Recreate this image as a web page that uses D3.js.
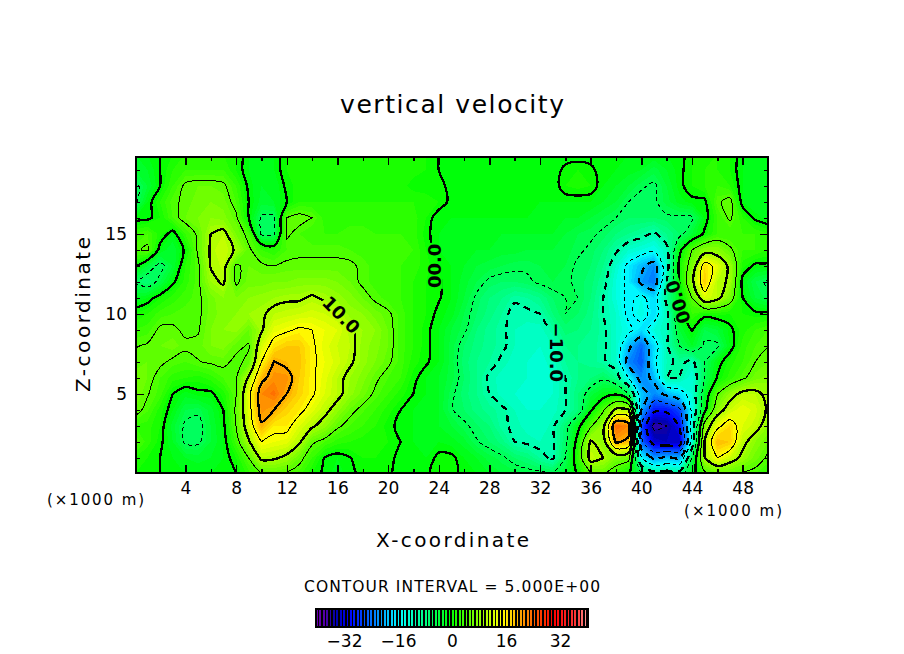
<!DOCTYPE html>
<html>
<head>
<meta charset="utf-8">
<title>vertical velocity</title>
<script src="https://cdn.jsdelivr.net/npm/d3@7"></script>
<style>
  html, body { margin: 0; background: #fff; }
  text { font-family: "DejaVu Sans", sans-serif; fill: #000; }
</style>
</head>
<body>
<svg id="chart" width="904" height="654"></svg>
<script>
// Values, one row per km of height, x = 0..50 km
var w20 = [-2,-1,0,1,2,2,2,2,1,-1,  -2,-1,1,1.5,1.5,1.5,1.5,1.5,1.5,1.5,  1.5,1.5,1.5,1,0,-1,-1,-1,-1,-1,  -1,-1,-1,-1,-1,-1,-1,-1,-1,-1,  -1,-1,-1,-1,1,1,2,1,-1,-2,-2];
var w19 = [-3,-2,0,2,3,3,3,3,1,-1,  -2,-1,1,1.5,1.5,1.5,1.5,1.5,1.5,1.5,  1.5,1.5,1.5,1,0,-1,-1,-1,-1,-1,  -1,-1,-1,-1,0.5,1,0.5,-1,-1,-1.5,  -2,-3.5,-2,-0.5,1,2,2,1,-1,-2,-2];
var w18 = [-6,-3,0,3,5.5,6,6,5.5,3,-0.5,  -2,-2,0.5,1.5,1.5,1.5,1.5,1.5,1.5,1.5,  1.5,1.5,0.5,0.5,0.5,-0.5,-1,-1,-1,-1,  -1,-1,-1,-1,1,1.5,1,-1,-2,-3,  -4.6,-5.5,-3,-0.5,1,2,3,2,-1,-2,-2];
var w17 = [-6,-1,2,4.5,5.5,6.5,7,6.5,4,0,  -2.5,-2,0,2,2,2,2,2,2,2,  2,2,2,1.5,1,-0.5,-1,-1,-1,-1,  -1,-1,-1,-1,-1,-1,-1,-2,-3,-5,  -6,-5.5,-3.5,-1.5,-0.5,-0.5,4.5,6,-1,-2,-2];
var w16 = [-1,-0.5,1,4,6,7,8,7.5,5.5,0,  -5.5,-5.5,5,6,5,2.5,2.5,2.5,2.5,2.5,  2.5,2.5,2.5,1,-1,-1,-1,-1,-1,-1,  -1,-1,-2,-2,-2,-2,-3,-4,-5,-6,  -6,-6,-5.5,-5.5,-5.5,-1,3,5.5,2,-0.5,-1.5];
var w15 = [3,4,1.5,-1,3,5.5,10,11,7,4,  -5.5,-5.5,5.5,4,3,3,3,3.5,3.5,3,  3,3,2.5,0.5,-1,-1.5,-2,-2,-2,-2,  -2,-2,-2,-2,-3,-4,-4.5,-5.5,-7,-8,  -9,-10.5,-8,-6,-3,0.5,3,3,3,3,2];
var w14 = [4.5,5.5,-1,-3,0.5,5.5,10.5,12,9.5,5.5,  3,2,4,4.5,4.5,4.5,4.5,4,3.5,3,  3,3,3,1,-1,-1.5,-2,-2,-2,-2.5,  -2.5,-3,-3,-3,-3.5,-4.5,-5.5,-7,-9.5,-12,  -13,-14,-11,-1,5,8,8,5.5,3,3,2];
var w13 = [0.5,-3,-6,-3,2,4.5,10.2,11.3,4.5,6,  5.5,5,5.5,5.5,5.5,5.5,5.5,5.5,4.5,3.5,  3,3,2.5,1.5,0,-1,-2,-3,-3.5,-4,  -4.5,-4.5,-4,-4,-4,-5.5,-6,-8,-12,-16,  -19,-22,-12,1,7,17,13.5,9,1.5,-0.5,-0.5];
var w12 = [-5.5,-7,-4,-0.5,2.5,4.5,9,10.5,4.5,6.5,  6.5,7,7,7.5,7.5,7.5,7,6,4.5,3.5,  3,3,2,1,0.3,-1,-2.5,-4,-5.5,-6,  -6,-5.5,-4.5,-4,-4.5,-5.5,-6.5,-9,-13,-16,  -21,-23,-10,0,9,18,11,9.5,-1,-4,-5.5];
var w11 = [-2,-1,1,2.5,3.5,4.5,6.5,8,7,8,  8.5,9,9.5,9.5,10.5,9.5,8.5,7.5,6,4.5,  3.5,3,2,1,0.2,-1,-3,-5.5,-7,-8,  -9.5,-9,-8,-6,-5,-5,-7,-10,-13,-16,  -14,-17,-9,-1,5,13,11,7,0,-3,-4.5];
var w10 = [1,2,3.5,4,4.5,4.5,6.5,7.5,8,9,  9.5,11,11.5,12,12.5,12,11,8.5,8,6.5,  5.5,3.5,2,1,-0.5,-1.5,-4,-6,-7.5,-9,  -11,-10.5,-10,-7,-5,-6,-7.5,-10,-12,-16,  -13,-17,-11,-1,3,1,1.5,1,1,0.5,0.5];
var w9  = [3,3.5,5.5,5.5,4.5,4.8,7,8,8.5,6,  9.5,13.5,14.5,15.5,15,14,13,10.5,9,8,  6,3.5,2,0.5,-1,-3,-4.5,-7,-8.5,-9.5,  -11,-11.5,-11.5,-9.5,-6.5,-7,-8,-9.5,-12,-14,  -17,-13,-11,-3,0.2,-4,-3,-0.5,1.5,3,4];
var w8  = [4.8,5.3,6,6.5,5.5,5.5,7,7.5,5.5,4.8,  12.5,16.5,18,18,15.5,13.5,12,11,8.5,7.5,  6,3.5,2,0.5,-1,-3.5,-6,-7.5,-8.5,-9.5,  -11,-12,-12,-11,-8,-8,-8.5,-9.5,-12,-19,  -24,-17,-10.5,-5,-2,-5.5,-5.5,-1,2.5,4,4.8];
var w7  = [5.5,6,5.5,4.5,4,4.9,5.3,5.5,4.5,5.5,  15,20.1,19,18.5,15.5,14,12.5,10.5,8.5,7,  5.5,3.5,1.5,0.3,-1,-3.5,-6.5,-8,-9,-10.5,  -11.5,-12,-12.5,-11.5,-9,-8,-8.5,-9.5,-12,-22,  -25,-16,-11,-9,-11,-5,-1,1.5,3,5,6];
var w6  = [6.5,6,4,2.5,2,1.5,2.5,4,4.8,10.5,  19,21.5,21.5,18,15.5,13.5,11,9,7.5,5.5,  4,3,0.5,-1,-2,-3.5,-6,-8,-10.5,-11.5,  -11.5,-12,-12.5,-12,-10,-8,-7,-5.5,-8,-15,  -22,-19,-10,-10,-13,-5,0.2,2.5,4.5,6.5,7.5];
var w5  = [7,5.2,3.5,0,-1.5,-0.5,-0.5,1.5,4.9,14,  22,23.5,20,17.5,15.5,13,11,8.5,6.5,4.5,  3,1.5,0,-1,-2,-4.5,-6.5,-8,-10,-11.5,  -12,-12.5,-12.5,-12,-10,-7,-3.5,-1.5,-0.5,-5,  -18,-22,-19,-17,-13,-2.5,5,8.5,11,11,9];
var w4  = [6,4.2,1.5,-1,-4,-4.5,-2.5,0,5.5,13.5,  21.5,20,17.5,16,13.5,11,8.5,5.8,4.2,3,  1.5,0,-1,-1.5,-2,-4.8,-6,-7.5,-8.5,-9.5,  -11,-12,-12,-11.5,-10,-7,-0.5,4.5,11,10.5,  -20,-29,-29,-26,-14,-1,8,12,14,12.5,9.5];
var w3  = [3,2.5,1,-2.5,-5.5,-6,-3,-0.5,5,12.5,  19.5,16,16,13,10.5,8.5,5.5,4,3,2,  0.5,-0.5,-1,-1.5,-2,-3,-4.5,-5.8,-7,-9.5,  -10.5,-11.5,-12,-10.5,-6.5,-1,4.5,9,24,22,  -26,-36,-35,-30,-13,7,14,17,13,11.5,8];
var w2  = [5.1,2.5,0.5,-2,-5.5,-5.5,-3,-1,3.5,9.5,  15,14,13.5,10.5,5.5,4,2.5,2,1.5,1,  1,0,-1,-1.5,-1,-1.5,-2.5,-4.8,-6,-7.5,  -10,-10.5,-11,-10.5,-6,1.5,10.5,8,20.5,19,  -24,-32,-33,-33,-13,10.5,19,18,11,8,6];
var w1  = [2,1,0,-1,-2,-2.5,-2,-1,1,5,  10.8,10.5,9,6,3,-0.2,-1,-0.1,1,1,  0.5,-0.5,-1,-1,0.5,0.5,-1,-2,-3.5,-4.5,  -6,-7,-9,-10.5,-5,2.5,11.5,10,7,6,  -15,-21,-19,-20,-5,10,15,12,9,6.5,4.5];
var w0  = [1,0.5,0,-1,-1,-1,-1,-0.5,0,2.5,  4.5,5,4.5,3.5,1,-0.5,-1.5,-0.5,0.5,0.5,  0.2,-0.5,-1,-0.5,1,0.5,-0.5,-1,-2,-3,  -3.5,-4,-4,-4.5,-3,0.5,5,5.5,3,0.5,  -5,-8,-8,-8,-2,4,5,5,4.5,4,3];

var xMajorTicks = [4, 8, 12, 16, 20, 24, 28, 32, 36, 40, 44, 48];
var xMinorTicks = d3.range(2, 50, 2);
var zMajorTicks = [5, 10, 15];
var zMinorTicks = d3.range(1, 20);
var contourLevels = d3.range(-35, 30, 5);
var colorStops = [-40, -37, -34, -30, -15, 0, 15, 30, 37, 40];
var colorValues = ["#7000b0", "#5000a8", "#0000a8", "#0000ff", "#00ffff", "#00ff00", "#ffff00", "#ff0000", "#ff3a3a", "#ff9c9c"];
var colorbarTicks = [-32, -16, 0, 16, 32];

var labelTexts = ["10.0", "\u221210.0", "00.0", "00.0"];
var labelX = [16.3, 33.3, 23.7, 42.9];
var labelZ = [9.94, 7.6, 13, 10.75];
var labelAngle = [45, 90, -90, -108];

var wRows = [w20, w19, w18, w17, w16, w15, w14, w13, w12, w11, w10, w9, w8, w7, w6, w5, w4, w3, w2, w1, w0];
var nx = wRows[0].length, nz = wRows.length;
var wFlat = wRows.flat();

var svg = d3.select("#chart");
var left = 136, right = 768, top_ = 157, bottom = 473;

var x = d3.scaleLinear().domain([0.1, 50]).range([left, right]);
var z = d3.scaleLinear().domain([0.06, 19.8]).range([bottom, top_]);
var color = d3.scaleLinear().domain(colorStops).range(colorValues).clamp(true);

// d3.contours puts grid node i at i + 0.5
function px(c) { return x(c - 0.5); }
function py(c) { return z(nz - 1 - (c - 0.5)); }

var defs = svg.append("defs");
defs.append("clipPath").attr("id", "plotClip").append("rect")
  .attr("x", left).attr("y", top_).attr("width", right - left).attr("height", bottom - top_);

// filled bands, one per colour bar cell
var fillLevels = d3.range(-40, 41);
var fillPath = d3.geoPath(d3.geoTransform({
  point: function (a, b) { this.stream.point(px(a), py(b)); }
}));
var plot = svg.append("g").attr("clip-path", "url(#plotClip)");
plot.append("rect").attr("x", left).attr("y", top_).attr("width", right - left).attr("height", bottom - top_)
  .attr("fill", color(-40));
plot.append("g").attr("shape-rendering", "crispEdges")
  .selectAll("path")
  .data(d3.contours().size([nx, nz]).thresholds(fillLevels)(wFlat))
  .join("path")
  .attr("d", fillPath)
  .attr("fill", d => color(d.value + 0.5));

// gaps in the lines where the labels sit
var mask = defs.append("mask").attr("id", "labelGaps").attr("maskUnits", "userSpaceOnUse")
  .attr("x", 0).attr("y", 0).attr("width", 904).attr("height", 654);
mask.append("rect").attr("width", 904).attr("height", 654).attr("fill", "#fff");
labelTexts.forEach(function (t, i) {
  var w = t.length * 10.5 + 4;
  mask.append("rect").attr("x", -w / 2).attr("y", -8).attr("width", w).attr("height", 16).attr("fill", "#000")
    .attr("transform", `translate(${x(labelX[i])},${z(labelZ[i])}) rotate(${labelAngle[i]})`);
});

// contour lines: 0 and every 10 heavy, negative dashed
var ringLine = d3.line().curve(d3.curveCatmullRomClosed.alpha(0.5));
function linePath(d) {
  var s = "";
  d.coordinates.forEach(function (poly) {
    poly.forEach(function (ring) {
      s += ringLine(ring.slice(0, -1).map(p => [px(p[0]), py(p[1])]));
    });
  });
  return s;
}
plot.append("g").attr("mask", "url(#labelGaps)").attr("shape-rendering", "crispEdges")
  .selectAll("path")
  .data(d3.contours().size([nx, nz]).thresholds(contourLevels)(wFlat))
  .join("path")
  .attr("d", linePath)
  .attr("fill", "none")
  .attr("stroke", "#000")
  .attr("stroke-width", d => d.value % 10 === 0 ? 2.3 : 1)
  .attr("stroke-dasharray", d => d.value < 0 ? (d.value % 10 === 0 ? "7 5" : "4 3") : null);

plot.append("g").selectAll("text")
  .data(labelTexts)
  .join("text")
  .attr("transform", (d, i) => `translate(${x(labelX[i])},${z(labelZ[i])}) rotate(${labelAngle[i]})`)
  .attr("text-anchor", "middle")
  .attr("dy", "0.36em")
  .attr("font-size", 18)
  .attr("font-weight", "bold")
  .text(d => d);

// axes, ticks on all four sides pointing in
function drawAxis(axisFn, scale, values, size, pos, padding, labelled) {
  var g = svg.append("g").attr("transform", pos)
    .call(axisFn(scale).tickValues(values).tickSize(-size).tickPadding(padding)
      .tickFormat(labelled ? d3.format("d") : ""));
  g.select(".domain").remove();
  g.selectAll("line").attr("stroke", "#000").attr("stroke-width", 1.4).attr("shape-rendering", "crispEdges");
  g.selectAll("text").attr("font-size", 17);
}
drawAxis(d3.axisBottom, x, xMinorTicks, 4, `translate(0,${bottom})`, 0, false);
drawAxis(d3.axisBottom, x, xMajorTicks, 8, `translate(0,${bottom})`, 9, true);
drawAxis(d3.axisTop, x, xMinorTicks, 4, `translate(0,${top_})`, 0, false);
drawAxis(d3.axisTop, x, xMajorTicks, 8, `translate(0,${top_})`, 0, false);
drawAxis(d3.axisLeft, z, zMinorTicks, 4, `translate(${left},0)`, 0, false);
drawAxis(d3.axisLeft, z, zMajorTicks, 8, `translate(${left},0)`, 9, true);
drawAxis(d3.axisRight, z, zMinorTicks, 4, `translate(${right},0)`, 0, false);
drawAxis(d3.axisRight, z, zMajorTicks, 8, `translate(${right},0)`, 0, false);

svg.append("rect").attr("x", left).attr("y", top_).attr("width", right - left).attr("height", bottom - top_)
  .attr("fill", "none").attr("stroke", "#000").attr("stroke-width", 2).attr("shape-rendering", "crispEdges");

// titles and captions
function caption(str, cx, cy, size, width, rotate) {
  svg.append("text")
    .attr("transform", `translate(${cx},${cy})` + (rotate ? ` rotate(${rotate})` : ""))
    .attr("text-anchor", "middle")
    .attr("font-size", size)
    .attr("textLength", width)
    .attr("lengthAdjust", "spacing")
    .text(str);
}
caption("vertical velocity", 452, 113, 25, 224);
caption("X-coordinate", 452.5, 547, 20, 153);
caption("Z-coordinate", 90, 314.5, 20, 155, -90);
caption("(\u00d71000 m)", 95.5, 505, 15, 97);
caption("(\u00d71000 m)", 733, 516, 15, 98);
caption("CONTOUR INTERVAL = 5.000E+00", 452, 592, 15.5, 296);

// colour bar
var cbLeft = 316, cbRight = 588, cbTop = 609, cbBottom = 627;
var cbCells = d3.range(-40, 40);
var cbBand = d3.scaleBand().domain(cbCells).range([cbLeft, cbRight]);
var cbAxis = d3.scaleLinear().domain([-40.3, 40.3]).range([cbLeft, cbRight]);
svg.append("rect").attr("x", cbLeft).attr("y", cbTop).attr("width", cbRight - cbLeft).attr("height", cbBottom - cbTop)
  .attr("fill", "#000");
svg.append("g").attr("shape-rendering", "crispEdges").selectAll("rect")
  .data(cbCells)
  .join("rect")
  .attr("x", d => cbBand(d))
  .attr("y", cbTop)
  .attr("width", cbBand.bandwidth() * 0.55)
  .attr("height", cbBottom - cbTop)
  .attr("fill", d => color(d + 0.5));
svg.append("rect").attr("x", cbLeft).attr("y", cbTop).attr("width", cbRight - cbLeft).attr("height", cbBottom - cbTop)
  .attr("fill", "none").attr("stroke", "#000").attr("stroke-width", 2).attr("shape-rendering", "crispEdges");
var cbG = svg.append("g").attr("transform", `translate(0,${cbBottom})`)
  .call(d3.axisBottom(cbAxis).tickValues(colorbarTicks).tickSize(0).tickPadding(8));
cbG.select(".domain").remove();
cbG.selectAll("text").attr("font-size", 17);
</script>
</body>
</html>
